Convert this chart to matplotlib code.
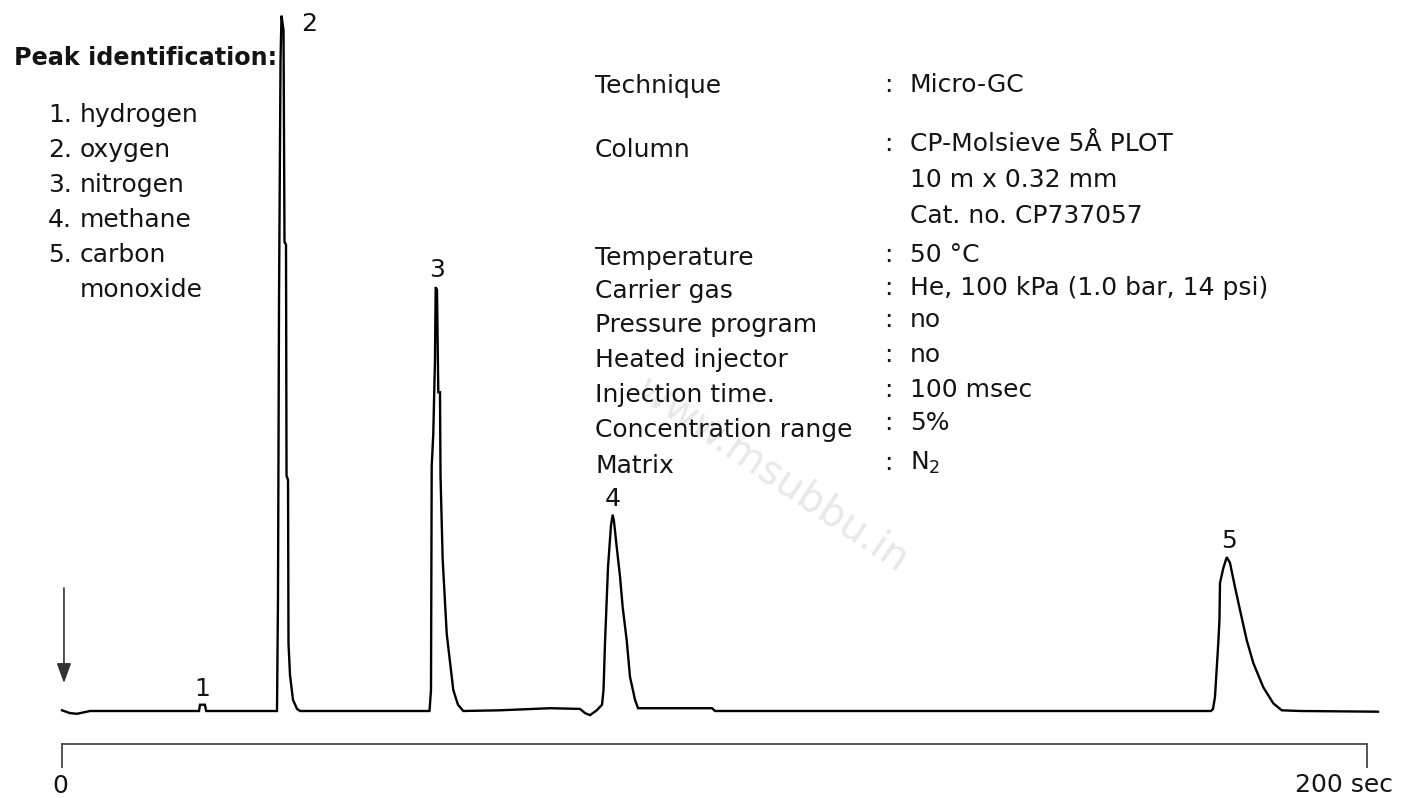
""" micro-GC chromatogram of permanent gases on a CP-Molsieve 5A PLOT column
"""
import matplotlib
matplotlib.use("Agg")
import matplotlib.pyplot as plt

W_PX, H_PX = 1401, 798
FONT = "DejaVu Sans"
TEXT_COLOR = "#141414"
plt.rcParams["font.family"] = FONT

# trace: retention time (sec) and detector response (peak 2 = 100)
time_sec = [
    0.0, 1.2, 2.3, 4.3, 21.0, 21.15, 21.9, 22.1,
    32.95, 33.10, 33.26, 33.49, 33.64, 33.95, 34.10, 34.33, 34.41, 34.64,
    34.71, 34.94, 35.40, 36.02, 36.48,
    56.32, 56.55, 56.66, 56.90, 57.16, 57.27, 57.47, 57.67, 57.93, 58.01,
    58.34, 58.96, 59.97, 60.69, 61.50,
    67.13, 74.79, 79.39, 80.15, 80.92, 81.95, 82.76, 82.99, 83.22, 83.68,
    84.14, 84.40, 84.60, 85.01, 85.52, 85.93, 86.54, 87.05, 87.82, 88.28,
    99.62, 100.08,
    176.09, 176.40, 176.70, 177.21, 177.39, 177.47, 177.97, 178.50, 179.00,
    179.77, 180.54, 181.56, 182.57, 184.11, 185.64, 186.93, 189.74, 201.69,
]
response = [
    0.1, -0.3, -0.4, 0.0, 0.0, 0.9, 0.9, 0.0,
    0.0, 15.9, 59.1, 93.5, 99.9, 97.8, 67.4, 67.0, 33.8, 33.2,
    9.8, 5.2, 1.6, 0.3, 0.0,
    0.0, 3.0, 35.2, 39.8, 50.4, 60.9, 60.5, 45.8, 45.8, 33.8,
    21.8, 11.1, 3.0, 0.9, 0.0,
    0.1, 0.4, 0.3, -0.3, -0.6, 0.1, 0.9, 3.0, 9.8, 20.7,
    26.7, 28.2, 27.2, 23.6, 19.3, 14.9, 10.2, 4.9, 1.6, 0.4,
    0.4, 0.0,
    0.0, 0.3, 2.0, 9.8, 13.1, 18.4, 20.5, 22.1, 21.3,
    17.8, 14.5, 10.2, 6.9, 3.4, 1.1, 0.1, 0.0, -0.1,
]

peak_ids = ["1", "2", "3", "4", "5"]
peak_time = [21.5, 33.64, 57.27, 84.40, 178.50]
peak_height = [0.9, 99.9, 60.9, 28.2, 22.1]
peak_names = ["hydrogen", "oxygen", "nitrogen", "methane", "carbon\nmonoxide"]

axis_ticks = [0, 200]
axis_tick_labels = ["0", "200 sec"]

info_labels = [
    "Technique", "Column", "Temperature", "Carrier gas", "Pressure program",
    "Heated injector", "Injection time.", "Concentration range", "Matrix",
]
info_values = [
    "Micro-GC",
    "CP-Molsieve 5Å PLOT\n10 m x 0.32 mm\nCat. no. CP737057",
    "50 °C",
    "He, 100 kPa (1.0 bar, 14 psi)",
    "no",
    "no",
    "100 msec",
    "5%",
    "N$_2$",
]

# layout in picture pixels (baselines)
LABEL_BASE_PX = [93, 157, 265, 298, 332, 367, 402, 437, 473]
VALUE_BASE_PX = [92, 151, 262, 295, 327, 362, 397, 430, 470]
VALUE_LINE_PX = 36
PEAK_LABEL_OFFSET = [(0, 16), (28, -8), (1, 17), (0, 16), (2, 16)]

# data limits chosen so that 0..200 sec spans x=62..1367 px and baseline sits at y=711 px
PX_PER_SEC = 6.525
PX_PER_UNIT = 6.96
X0_PX, BASE_PX = 62, 711


def fx(px):
    return px / W_PX


def fy(px):
    return 1 - px / H_PX


def to_data_y(px):
    return (BASE_PX - px) / PX_PER_UNIT


fig = plt.figure(figsize=(W_PX / 100, H_PX / 100), dpi=100)
ax = fig.add_axes([0, 0, 1, 1])
ax.set_xlim(-X0_PX / PX_PER_SEC, (W_PX - X0_PX) / PX_PER_SEC)
ax.set_ylim(to_data_y(H_PX), to_data_y(0))
ax.axis("off")

# watermark
fig.text(fx(772), fy(475), "www.msubbu.in", rotation=-34, rotation_mode="anchor",
         ha="center", va="center", fontsize=29, color="#e8e8e8", zorder=0)

ax.plot(time_sec, response, color="black", linewidth=1.7, solid_joinstyle="miter",
        zorder=3)

for pid, t, h, (dx, dy) in zip(peak_ids, peak_time, peak_height, PEAK_LABEL_OFFSET):
    ax.annotate(pid, xy=(t, h), xytext=(dx, dy), textcoords="offset pixels",
                ha="center", va="center", fontsize=18, color=TEXT_COLOR)

# injection arrow
ax.annotate("", xy=(0.3, to_data_y(683)), xytext=(0.3, to_data_y(588)),
            arrowprops=dict(arrowstyle="-|>,head_length=0.6,head_width=0.22",
                            mutation_scale=20, color="#333333", lw=1.2,
                            shrinkA=0, shrinkB=0))

# time scale
y_axis = to_data_y(744)
y_tick = to_data_y(767)
ax.plot([axis_ticks[0], axis_ticks[-1]], [y_axis, y_axis], color="#555555", lw=1.4)
for t in axis_ticks:
    ax.plot([t, t], [y_axis, y_tick], color="#555555", lw=1.4)
ax.text(axis_ticks[0] - 0.3, to_data_y(793), axis_tick_labels[0], ha="center",
        va="baseline", fontsize=18, color=TEXT_COLOR)
ax.text((1393 - X0_PX) / PX_PER_SEC, to_data_y(792), axis_tick_labels[1], ha="right",
        va="baseline", fontsize=18, color=TEXT_COLOR)

# peak identification block
fig.text(fx(14), fy(65), "Peak identification:", fontsize=17.2, fontweight="bold",
         color=TEXT_COLOR, va="baseline")
line_no = 0
for i, name in enumerate(peak_names):
    for j, part in enumerate(name.split("\n")):
        base = 122 + 35 * line_no
        if j == 0:
            fig.text(fx(48), fy(base), f"{i + 1}.", fontsize=18, color=TEXT_COLOR,
                     va="baseline")
        fig.text(fx(80), fy(base), part, fontsize=18, color=TEXT_COLOR, va="baseline")
        line_no += 1

# method block
for label, base in zip(info_labels, LABEL_BASE_PX):
    fig.text(fx(595), fy(base), label, fontsize=18, color=TEXT_COLOR, va="baseline")
for value, base in zip(info_values, VALUE_BASE_PX):
    fig.text(fx(884), fy(base), ":", fontsize=18, color=TEXT_COLOR, va="baseline")
    for k, part in enumerate(value.split("\n")):
        fig.text(fx(910), fy(base + k * VALUE_LINE_PX), part, fontsize=18,
                 color=TEXT_COLOR, va="baseline")

fig.savefig("out.png", dpi=100, facecolor="white")
